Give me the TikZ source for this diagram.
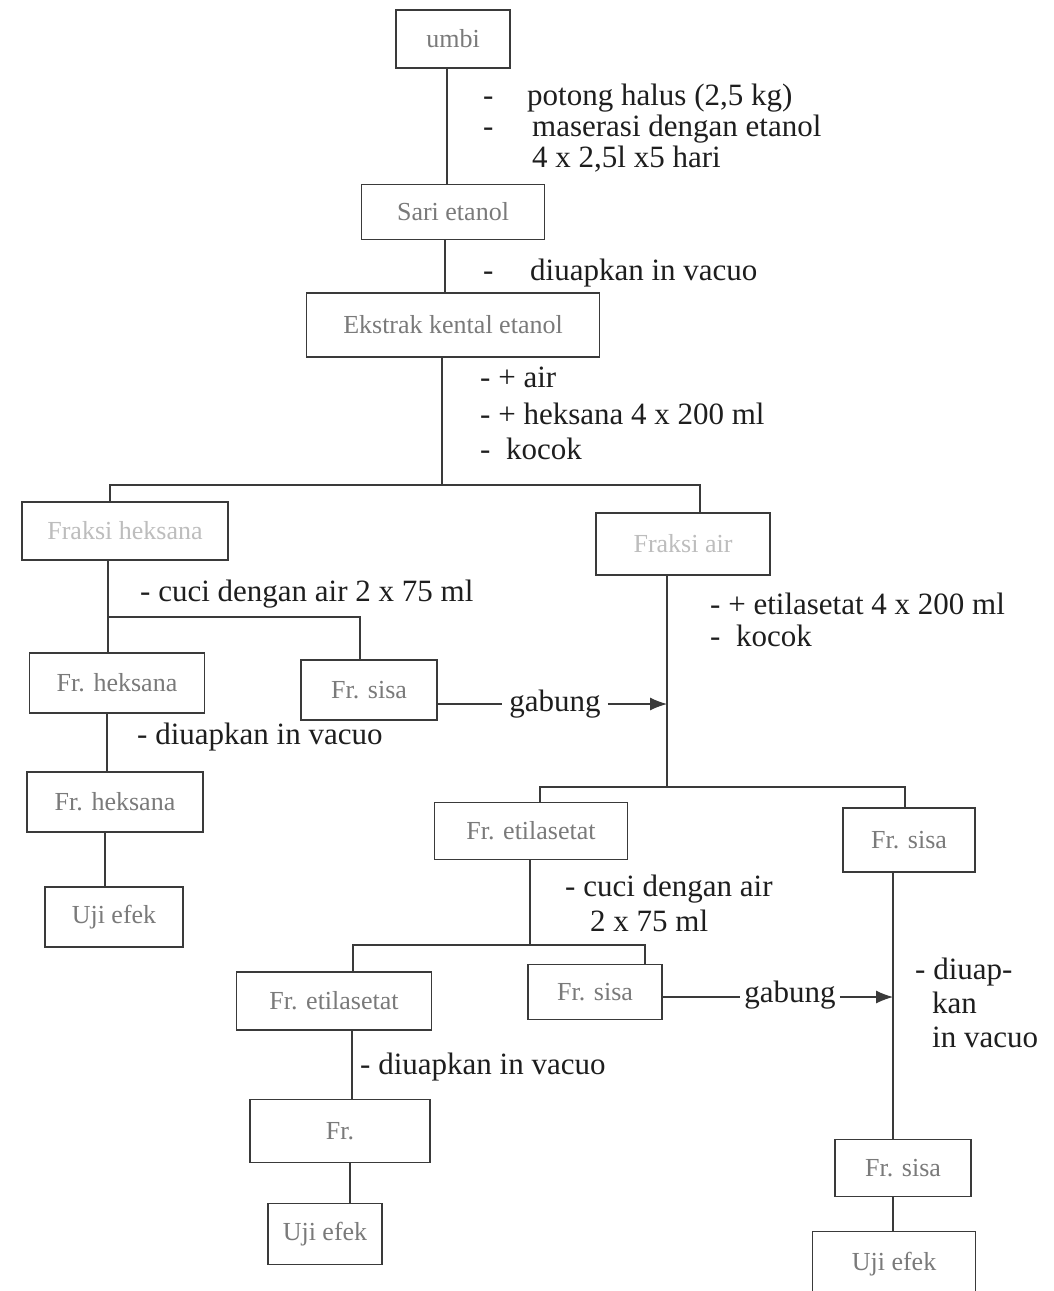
\documentclass[tikz,border=0pt]{standalone}
\usepackage{fontspec}
\setmainfont{Liberation Serif}
\usetikzlibrary{arrows.meta}
\definecolor{boxline}{HTML}{3A3A3A}
\definecolor{boxtext}{HTML}{7A7A7A}
\definecolor{fainttext}{HTML}{BDBDBD}
\definecolor{annot}{HTML}{1E1E1E}
\tikzset{
  box/.style={draw=boxline, line width=1.1pt, text=boxtext, font=\fontsize{26}{29}\selectfont, inner sep=0pt, align=center},
  faintbox/.style={box, text=fainttext},
  note/.style={anchor=base west, text=annot, font=\fontsize{31}{35}\selectfont, inner sep=0pt},
  link/.style={draw=boxline, line width=1.1pt},
  joinarrow/.style={link, -{Latex[length=17pt,width=13pt]}}
}
\begin{document}
\begin{tikzpicture}[x=1pt,y=-1pt]
\useasboundingbox (0,0) rectangle (1053,1291);
\fill[white] (0,0) rectangle (1053,1291);

% boxes
\node[box, minimum width=114pt, minimum height=58pt] (umbi) at (453,39) {umbi};
\node[box, minimum width=183pt, minimum height=55pt] (sari) at (453,212) {Sari etanol};
\node[box, minimum width=293pt, minimum height=64pt] (ekstrak) at (453,325) {Ekstrak kental etanol};
\node[faintbox, minimum width=206pt, minimum height=58pt] (fh) at (125,531) {Fraksi heksana};
\node[faintbox, minimum width=174pt, minimum height=62pt] (fa) at (683,544) {Fraksi air};
\node[box, minimum width=175pt, minimum height=60pt] (frh1) at (117,683) {Fr. heksana};
\node[box, minimum width=136pt, minimum height=60pt] (frs1) at (369,690) {Fr. sisa};
\node[box, minimum width=176pt, minimum height=60pt] (frh2) at (115,802) {Fr. heksana};
\node[box, minimum width=138pt, minimum height=60pt] (uji1) at (114,917) {Uji efek};
\node[box, minimum width=193pt, minimum height=57pt] (fre1) at (531,831) {Fr. etilasetat};
\node[box, minimum width=132pt, minimum height=64pt] (frs2) at (909,840) {Fr. sisa};
\node[box, minimum width=195pt, minimum height=58pt] (fre2) at (334,1001) {Fr. etilasetat};
\node[box, minimum width=134pt, minimum height=55pt] (frs3) at (595,992) {Fr. sisa};
\node[box, minimum width=180pt, minimum height=63pt] (fr) at (340,1131) {Fr.};
\node[box, minimum width=114pt, minimum height=61pt] (uji2) at (325,1234) {Uji efek};
\node[box, minimum width=136pt, minimum height=57pt] (frs4) at (903,1168) {Fr. sisa};
\node[box, draw=none, minimum width=162pt, minimum height=64pt] (uji3) at (894,1264) {Uji efek};
\draw[link] (uji3.south west) -- (uji3.north west) -- (uji3.north east) -- (uji3.south east);

% junction points
\coordinate (j1) at (442,485);
\coordinate (j2) at (108,617);
\coordinate (j3) at (667,787);
\coordinate (j4) at (530,945);
\coordinate (g1) at (667,704);
\coordinate (g2) at (893,997);

% connectors
\draw[link] ([xshift=-6pt]umbi.south) -- ([xshift=-6pt]sari.north);
\draw[link] ([xshift=-8pt]sari.south) -- ([xshift=-8pt]ekstrak.north);
\draw[link] ([xshift=-11pt]ekstrak.south) -- (j1);
\draw[link] ([xshift=-15pt]fh.north) |- (j1) -| ([xshift=17pt]fa.north);
\draw[link] ([xshift=-17pt]fh.south) -- ([xshift=-9pt]frh1.north);
\draw[link] (j2) -| ([xshift=-9pt]frs1.north);
\draw[link] ([xshift=-10pt]frh1.south) -- ([xshift=-8pt]frh2.north);
\draw[link] ([xshift=-10pt]frh2.south) -- ([xshift=-9pt]uji1.north);
\draw[link] ([xshift=-16pt]fa.south) -- (j3);
\draw[link] ([xshift=9pt]fre1.north) |- (j3) -| ([xshift=-4pt]frs2.north);
\draw[link] ([xshift=-1pt]fre1.south) -- (j4);
\draw[link] ([xshift=19pt]fre2.north) |- (j4) -| ([xshift=50pt]frs3.north);
\draw[link] ([xshift=-16pt]frs2.south) -- ([xshift=-10pt]frs4.north);
\draw[link] ([xshift=18pt]fre2.south) -- ([xshift=12pt]fr.north);
\draw[link] ([xshift=10pt]fr.south) -- ([xshift=25pt]uji2.north);
\draw[link] ([xshift=-10pt]frs4.south) -- ([xshift=-1pt]uji3.north);

% gabung arrows
\node[note, anchor=center, inner sep=7pt] (gab1) at (555,704) {gabung};
\draw[link] ([yshift=-14pt]frs1.east) -- (gab1.west |- g1);
\draw[joinarrow] (gab1.east |- g1) -- (g1);
\node[note, anchor=center, inner sep=4pt] (gab2) at (790,995) {gabung};
\draw[link] ([yshift=-5pt]frs3.east) -- (gab2.west |- g2);
\draw[joinarrow] (gab2.east |- g2) -- (g2);

% annotations (baselines)
\node[note] (n1a) at (483,105) {-};
\node[note] (n1b) at (527,105) {potong halus (2,5 kg)};
\node[note] (n2a) at (483,136) {-};
\node[note] (n2b) at (532,136) {maserasi dengan etanol};
\node[note] (n3) at (532,167) {4 x 2,5l x5 hari};
\node[note] (n4a) at (483,280) {-};
\node[note] (n4b) at (530,280) {diuapkan in vacuo};
\node[note] (n5) at (480,387) {- + air};
\node[note] (n6) at (480,424) {- + heksana 4 x 200 ml};
\node[note] (n7) at (480,459) {-\ \ kocok};
\node[note] (n8) at (140,601) {- cuci dengan air 2 x 75 ml};
\node[note] (n9) at (710,614) {- + etilasetat 4 x 200 ml};
\node[note] (n10) at (710,646) {-\ \ kocok};
\node[note] (n11) at (137,744) {- diuapkan in vacuo};
\node[note] (n12) at (565,896) {- cuci dengan air};
\node[note] (n13) at (590,931) {2 x 75 ml};
\node[note] (n14) at (915,979) {- diuap-};
\node[note] (n15) at (932,1013) {kan};
\node[note] (n16) at (932,1047) {in vacuo};
\node[note] (n17) at (360,1074) {- diuapkan in vacuo};
\end{tikzpicture}
\end{document}
